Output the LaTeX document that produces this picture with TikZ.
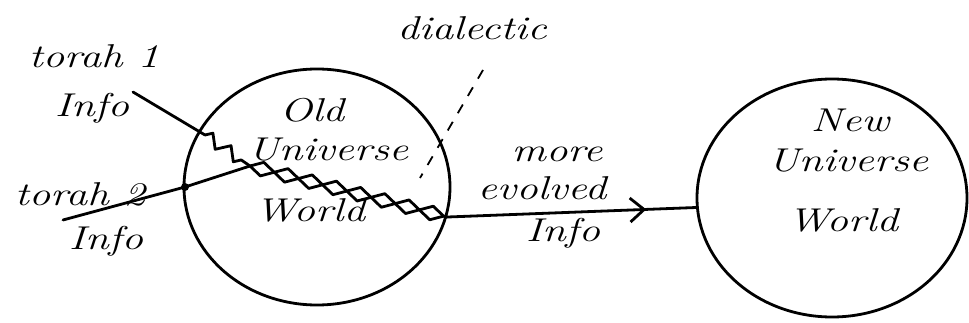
\documentclass[tikz,border=0pt]{standalone}
\usetikzlibrary{shapes.geometric,decorations.pathmorphing,decorations.markings,arrows.meta}
\newcommand{\hw}[1]{\scalebox{1.3}[1]{#1}}
\begin{document}
\begin{tikzpicture}[x=1pt,y=-1pt,
  ink/.style={line width=2.8pt, line cap=round, line join=round, black},
  world/.style={ink, draw, ellipse, inner sep=0pt},
  hand/.style={font=\fontsize{33}{36}\selectfont\itshape, inner sep=0pt},
  zz/.style={decorate, decoration={zigzag, amplitude=6pt, segment length=22pt}},
  zzm/.style={decorate, decoration={zigzag, amplitude=7pt, segment length=50pt, mirror}},
  zzb/.style={decorate, decoration={zigzag, amplitude=7pt, segment length=50pt}},
  flow/.style={ink, postaction={decorate}, decoration={markings, mark=at position 0.8 with {\arrow[line width=2.8pt]{Straight Barb[length=14pt,width=24pt]}}}}
]
\useasboundingbox (0,0) rectangle (969,323);
% worlds
\node[world, minimum width=266pt, minimum height=236pt] (old) at (317,187) {};
\node[world, minimum width=270pt, minimum height=238pt] (new) at (832,198) {};
% labels
\node[hand] (t1lab) at (94,56) {\hw{torah 1}};
\node[hand] (i1lab) at (92,108) {\hw{Info}};
\node[hand] (t2lab) at (80,194) {\hw{torah 2}};
\node[hand] (i2lab) at (106,241) {\hw{Info}};
\node[hand] (oldA) at (312,110) {\hw{Old}};
\node[hand] (oldB) at (328,150) {\hw{Universe}};
\node[hand] (oldC) at (310,210) {\hw{World}};
\node[hand] (dia) at (472,28) {\hw{dialectic}};
\node[hand] (moreA) at (557,154) {\hw{more}};
\node[hand] (moreB) at (542,188) {\hw{evolved}};
\node[hand] (moreC) at (563,233) {\hw{Info}};
\node[hand] (newA) at (850,120) {\hw{New}};
\node[hand] (newB) at (848,161) {\hw{Universe}};
\node[hand] (newC) at (843,220) {\hw{World}};
% torah inputs
\coordinate (t1) at (133,92);
\coordinate (t2) at (63,220);
\coordinate (k1) at (205,135);
\coordinate (dot) at (185,187);
\coordinate (m) at (250,166);
\coordinate (e) at (old.-13);
\draw[ink] (t1) -- (k1);
\draw[ink, zz] (k1) -- (m);
\draw[ink] (t2) -- (dot) -- (m);
\fill (dot) circle (4pt);
\draw[ink, zzb] (m) -- (e);
\draw[ink, zzm] (m) -- (e);
% dialectic pointer
\coordinate (dtop) at (483,70);
\coordinate (dbot) at (420,178);
\draw[line width=1.8pt, dash pattern=on 10pt off 10pt] (dtop) -- (dbot);
% evolved info arrow
\draw[flow] (e) -- (new.184);
\end{tikzpicture}
\end{document}
